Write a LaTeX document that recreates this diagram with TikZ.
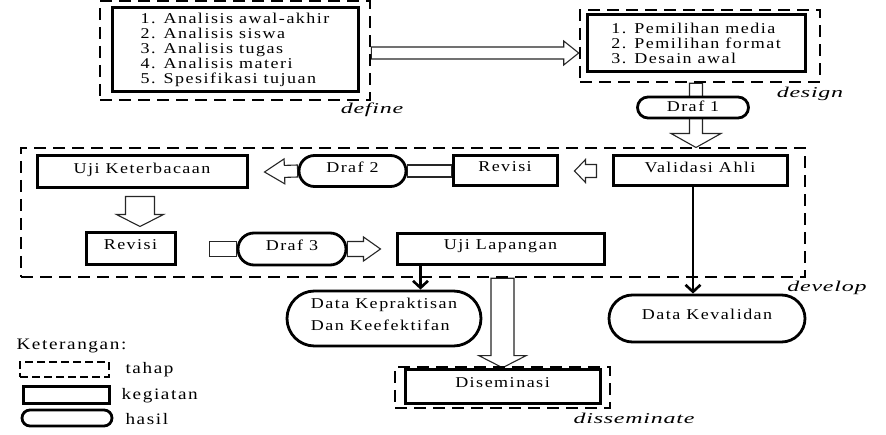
\documentclass[tikz,border=0pt]{standalone}
\usepackage{fontspec}
\setmainfont{Liberation Serif}[FakeStretch=1.2,LetterSpace=10]
\newfontfamily\namafont{Liberation Serif}[FakeStretch=1.6,LetterSpace=5]
\usetikzlibrary{calc}
\usetikzlibrary{arrows.meta}
\usetikzlibrary{shapes.misc}
\usetikzlibrary{backgrounds}

\begin{document}
\begin{tikzpicture}[x=1pt,y=-1pt,
    kegiatan/.style={draw,line width=3pt,fill=white,inner sep=2pt,text depth=8pt,font=\fontsize{15}{15}\selectfont},
    hasil/.style={draw,rounded rectangle,line width=2.8pt,fill=white,inner sep=2pt,text depth=8pt,font=\fontsize{15}{15}\selectfont},
    tahap/.style={draw,line width=2.6pt,dash pattern=on 12pt off 7pt},
    namatahap/.style={font=\namafont\itshape\fontsize{15}{15}\selectfont},
    keterangan/.style={anchor=west,font=\fontsize{16}{16}\selectfont},
    garis/.style={line width=2.6pt,-{Straight Barb[length=7pt,width=15pt]}},
    panah/.style n args={3}{fill=white,draw=black!85,line width=1.1pt,to path={
        ($(\tikztostart)!#1!90:(\tikztotarget)$) -- ($(\tikztotarget)!#3!(\tikztostart)!#1!-90:(\tikztostart)$)
        -- ($(\tikztotarget)!#3!(\tikztostart)!#2!-90:(\tikztostart)$) -- (\tikztotarget)
        -- ($(\tikztotarget)!#3!(\tikztostart)!#2!90:(\tikztostart)$) -- ($(\tikztotarget)!#3!(\tikztostart)!#1!90:(\tikztostart)$)
        -- ($(\tikztostart)!#1!-90:(\tikztotarget)$) -- cycle}},
    batang/.style={fill=white,draw=black!85,line width=1.1pt,to path={
        ($(\tikztostart)!#1!90:(\tikztotarget)$) -- ($(\tikztotarget)!#1!-90:(\tikztostart)$)
        -- ($(\tikztotarget)!#1!90:(\tikztostart)$) -- ($(\tikztostart)!#1!-90:(\tikztotarget)$) -- cycle}}]
    \useasboundingbox (0,0) rectangle (886,435);

    % Define
    \node[tahap,minimum width=270pt,minimum height=99pt] (defF) at (235,50.5) {};
    \node[kegiatan,minimum width=246pt,minimum height=84pt,align=left,text depth=3pt] (def) at (235,50)
        {1. Analisis awal-akhir\\2. Analisis siswa\\3. Analisis tugas\\4. Analisis materi\\5. Spesifikasi tujuan};
    \node[namatahap] (defL) at (372,110) {define};

    % Design
    \node[tahap,minimum width=240pt,minimum height=72pt] (desF) at (700,46) {};
    \node[kegiatan,minimum width=218pt,minimum height=57pt,align=left,text depth=0pt] (des) at (696,43.5)
        {1. Pemilihan media\\2. Pemilihan format\\3. Desain awal};
    \node[namatahap] (desL) at (810,94) {design};

    % Develop
    \node[tahap,minimum width=784pt,minimum height=129pt] (devF) at (413,212.5) {};
    \node[kegiatan,minimum width=174pt,minimum height=30pt] (val) at (700,171) {Validasi Ahli};
    \node[kegiatan,minimum width=104pt,minimum height=30pt] (rev1) at (505,171) {Revisi};
    \node[hasil,minimum width=111pt,minimum height=31pt] (draf2) at (352.5,171) {Draf 2};
    \node[kegiatan,minimum width=210pt,minimum height=32pt] (ujk) at (142,172) {Uji Keterbacaan};
    \node[kegiatan,minimum width=89pt,minimum height=32pt] (rev2) at (130.5,249) {Revisi};
    \node[hasil,minimum width=112pt,minimum height=32pt] (draf3) at (292,249) {Draf 3};
    \node[kegiatan,minimum width=207pt,minimum height=31pt] (ujl) at (500.5,249) {Uji Lapangan};
    \node[namatahap] (devL) at (827,288) {develop};

    % Data
    \node[hasil,minimum width=198pt,minimum height=55pt,align=left,font=\fontsize{15}{22}\selectfont] (dkp) at (384,318.5)
        {Data Kepraktisan\\Dan Keefektifan};
    \node[hasil,minimum width=200pt,minimum height=47pt] (dkv) at (707,318.5) {Data Kevalidan};

    % Disseminate
    \node[tahap,minimum width=215pt,minimum height=41pt] (disF) at (502.5,387.5) {};
    \node[kegiatan,minimum width=195pt,minimum height=33pt] (dis) at (502.5,386.5) {Diseminasi};
    \node[namatahap] (disL) at (634,418) {disseminate};

    % Hollow arrows
    \coordinate (a0) at (defF.east |- 0,53);
    \coordinate (a1) at (desF.west |- 0,53);
    \coordinate (b1) at ($(val.north)+(-4,-7)$);
    \coordinate (b0) at (b1 |- desF.south);
    \coordinate (c0) at ($(val.west)+(-15,0)$);
    \coordinate (c1) at ($(rev1.east)+(16,0)$);
    \coordinate (c2) at ($(ujk.east)+(16,0)$);
    \coordinate (d0) at ($(ujk.south)+(-2,7)$);
    \coordinate (d1) at ($(d0 |- rev2.north)+(0,-5)$);
    \coordinate (e0) at ($(rev2.east)+(33,0)$);
    \coordinate (e1) at ($(ujl.west)+(-15,0)$);
    \coordinate (f0) at (devF.south -| disF.north);
    \coordinate (f1) at ($(disF.north)+(0,2)$);
    \begin{pgfonlayer}{background}
        \path[panah={6pt}{12pt}{15pt}] (a0) to (a1);
        \path[panah={6.5pt}{25pt}{14pt}] (b0) to (b1);
        \path[panah={6.5pt}{11.5pt}{11pt}] (c0) to (c1);
        \path[batang={6pt}] (rev1.west) to (draf2.east);
        \path[panah={6pt}{12.5pt}{20pt}] (draf2.west) to (c2);
        \path[panah={14.5pt}{23.5pt}{12pt}] (d0) to (d1);
        \path[batang={7.5pt}] (e0) to (draf3.west);
        \path[panah={7.5pt}{12pt}{17pt}] (draf3.east) to (e1);
        \path[panah={11.5pt}{23.5pt}{12pt}] (f0) to (f1);
    \end{pgfonlayer}
    \node[hasil,minimum width=115pt,minimum height=21pt,text depth=3pt] (draf1) at (693,107.5) {Draf 1};

    % Thin arrows
    \coordinate (g0) at ($(ujl.south west)+(25,0)$);
    \coordinate (h0) at ($(val.south)+(-7,0)$);
    \draw[garis] (g0) -- (g0 |- dkp.north);
    \draw[garis] (h0) -- (h0 |- dkv.north);

    % Legend
    \node[keterangan] (ket) at (13,346) {Keterangan:};
    \node[tahap,line width=2pt,dash pattern=on 8pt off 4pt,minimum width=89pt,minimum height=15pt] (lgT) at (64.5,369.5) {};
    \node[keterangan] (lgTt) at (122,370) {tahap};
    \node[kegiatan,minimum width=86pt,minimum height=16pt] (lgK) at (66,395) {};
    \node[keterangan] (lgKt) at (118,396) {kegiatan};
    \node[hasil,minimum width=94pt,minimum height=16pt] (lgH) at (67,418) {};
    \node[keterangan] (lgHt) at (122,419) {hasil};
\end{tikzpicture}
\end{document}
